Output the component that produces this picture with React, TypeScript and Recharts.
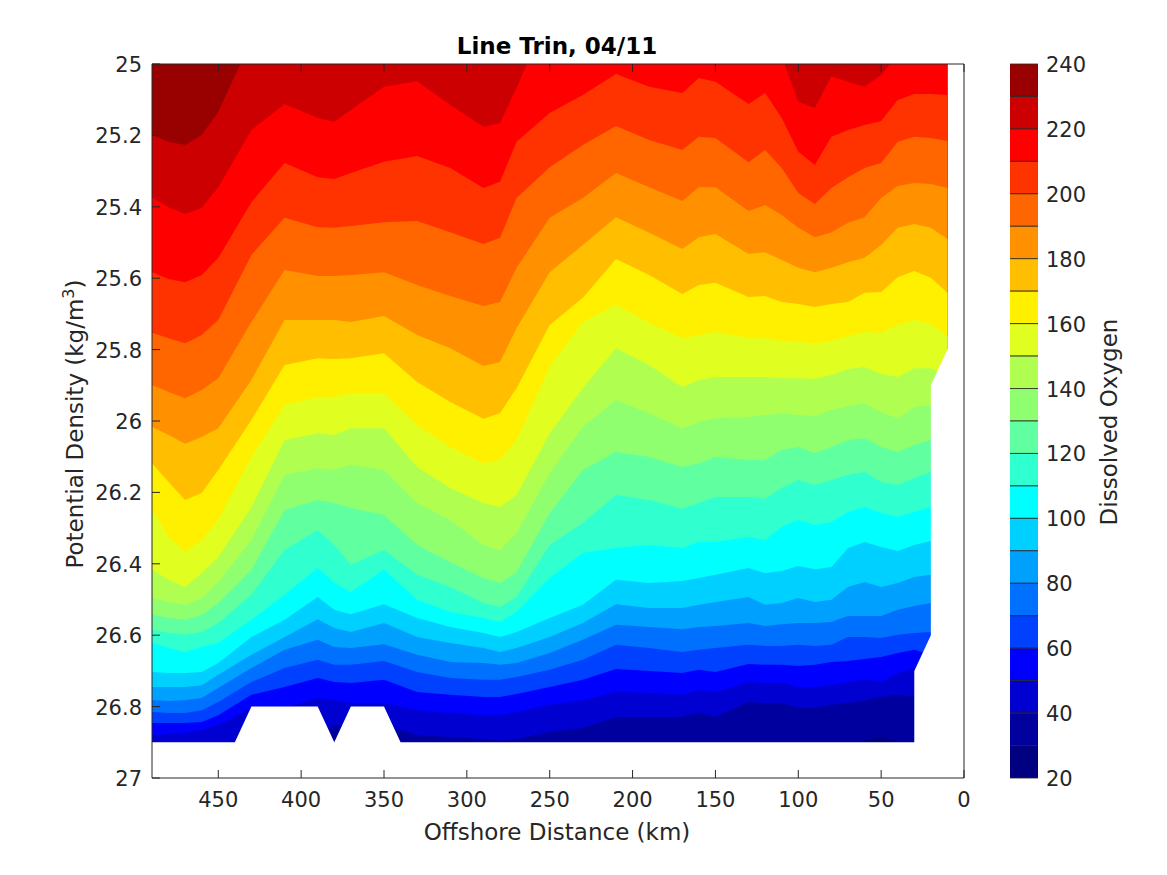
import { ComposedChart, Area, XAxis, YAxis } from "recharts";

// ─── Data: contour depth (kg/m3) of each oxygen level at each station ─────────

const stations = [490, 480, 470, 460, 450, 430, 410, 390, 380, 370, 350, 330, 310, 290, 280, 270, 250, 230, 210, 190, 170, 160, 150, 130, 120, 110, 100, 90, 80, 70, 60, 50, 40, 30, 20, 10];

const c230 = [25.199, 25.218, 25.227, 25.199, 25.134, 24.933, 24.85, 24.85, 24.85, 24.85, 24.85, 24.85, 24.85, 24.85, 24.85, 24.85, 24.85, 24.85, 24.85, 24.85, 24.85, 24.85, 24.85, 24.85, 24.85, 24.85, 24.85, 24.85, 24.85, 24.85, 24.85, 24.85, 24.85, 24.85, 24.85, 24.85];
const c220 = [25.373, 25.401, 25.42, 25.403, 25.345, 25.185, 25.112, 25.151, 25.162, 25.129, 25.064, 25.048, 25.115, 25.176, 25.165, 25.067, 24.85, 24.85, 24.85, 24.85, 24.85, 24.85, 24.85, 24.85, 24.85, 24.98, 25.106, 25.123, 25.034, 25.05, 25.064, 25.031, 24.975, 24.9, 24.85, 24.85];
const c210 = [25.583, 25.602, 25.611, 25.591, 25.543, 25.387, 25.277, 25.317, 25.322, 25.305, 25.274, 25.258, 25.291, 25.347, 25.33, 25.218, 25.137, 25.087, 25.028, 25.064, 25.081, 25.039, 25.05, 25.112, 25.081, 25.151, 25.246, 25.283, 25.204, 25.185, 25.171, 25.16, 25.101, 25.084, 25.084, 25.087];
const c200 = [25.753, 25.768, 25.782, 25.759, 25.717, 25.535, 25.431, 25.457, 25.459, 25.454, 25.443, 25.44, 25.471, 25.504, 25.487, 25.375, 25.289, 25.227, 25.174, 25.213, 25.241, 25.204, 25.207, 25.275, 25.241, 25.291, 25.361, 25.392, 25.347, 25.317, 25.291, 25.277, 25.218, 25.204, 25.207, 25.216];
const c190 = [25.899, 25.919, 25.936, 25.913, 25.88, 25.723, 25.577, 25.594, 25.594, 25.591, 25.583, 25.619, 25.65, 25.678, 25.667, 25.571, 25.431, 25.375, 25.305, 25.345, 25.384, 25.345, 25.345, 25.412, 25.395, 25.423, 25.459, 25.485, 25.471, 25.445, 25.429, 25.375, 25.342, 25.333, 25.336, 25.347];
const c180 = [26.017, 26.039, 26.064, 26.045, 26.02, 25.885, 25.717, 25.717, 25.717, 25.723, 25.706, 25.759, 25.796, 25.846, 25.835, 25.74, 25.583, 25.507, 25.429, 25.473, 25.518, 25.485, 25.476, 25.532, 25.527, 25.549, 25.571, 25.583, 25.571, 25.555, 25.543, 25.507, 25.459, 25.448, 25.459, 25.49];
const c170 = [26.118, 26.171, 26.221, 26.202, 26.137, 25.997, 25.843, 25.824, 25.826, 25.824, 25.81, 25.891, 25.947, 25.994, 25.978, 25.908, 25.731, 25.655, 25.546, 25.591, 25.644, 25.619, 25.613, 25.653, 25.65, 25.667, 25.672, 25.681, 25.672, 25.667, 25.641, 25.639, 25.597, 25.58, 25.599, 25.641];
const c160 = [26.244, 26.325, 26.367, 26.333, 26.277, 26.101, 25.955, 25.933, 25.933, 25.922, 25.922, 26.011, 26.073, 26.118, 26.109, 26.053, 25.849, 25.723, 25.675, 25.725, 25.768, 25.759, 25.751, 25.768, 25.768, 25.776, 25.779, 25.782, 25.776, 25.762, 25.751, 25.753, 25.731, 25.717, 25.728, 25.762];
const c150 = [26.417, 26.445, 26.465, 26.426, 26.381, 26.241, 26.053, 26.034, 26.039, 26.02, 26.02, 26.129, 26.188, 26.23, 26.241, 26.207, 26.034, 25.908, 25.796, 25.843, 25.905, 25.885, 25.877, 25.877, 25.877, 25.88, 25.88, 25.882, 25.871, 25.854, 25.849, 25.868, 25.877, 25.852, 25.852, 25.871];
const c140 = [26.496, 26.507, 26.515, 26.496, 26.451, 26.333, 26.151, 26.132, 26.137, 26.123, 26.137, 26.23, 26.277, 26.347, 26.361, 26.314, 26.146, 26.017, 25.941, 25.978, 26.02, 26.003, 25.992, 25.989, 25.983, 25.978, 25.983, 25.986, 25.969, 25.958, 25.95, 25.975, 25.992, 25.961, 25.955, 25.969];
const c130 = [26.543, 26.552, 26.557, 26.543, 26.51, 26.417, 26.249, 26.221, 26.23, 26.244, 26.263, 26.347, 26.395, 26.44, 26.454, 26.423, 26.258, 26.137, 26.087, 26.101, 26.129, 26.118, 26.101, 26.109, 26.109, 26.081, 26.073, 26.09, 26.073, 26.053, 26.048, 26.073, 26.087, 26.067, 26.053, 26.067];
const c120 = [26.585, 26.594, 26.599, 26.591, 26.566, 26.487, 26.361, 26.305, 26.347, 26.403, 26.361, 26.431, 26.465, 26.51, 26.521, 26.493, 26.347, 26.286, 26.207, 26.221, 26.246, 26.23, 26.213, 26.213, 26.218, 26.188, 26.165, 26.179, 26.165, 26.151, 26.143, 26.171, 26.179, 26.16, 26.143, 26.16];
const c110 = [26.622, 26.636, 26.647, 26.633, 26.622, 26.557, 26.487, 26.412, 26.454, 26.479, 26.417, 26.501, 26.535, 26.552, 26.563, 26.535, 26.44, 26.37, 26.356, 26.347, 26.356, 26.339, 26.339, 26.325, 26.333, 26.297, 26.277, 26.291, 26.283, 26.255, 26.241, 26.258, 26.269, 26.255, 26.241, 26.255];
const c100 = [26.703, 26.706, 26.706, 26.703, 26.678, 26.605, 26.557, 26.493, 26.529, 26.541, 26.513, 26.552, 26.577, 26.594, 26.605, 26.591, 26.552, 26.515, 26.445, 26.454, 26.448, 26.44, 26.431, 26.412, 26.426, 26.42, 26.406, 26.415, 26.409, 26.356, 26.339, 26.353, 26.364, 26.347, 26.336, 26.347];
const c90 = [26.745, 26.745, 26.745, 26.74, 26.711, 26.655, 26.605, 26.555, 26.58, 26.591, 26.566, 26.605, 26.622, 26.636, 26.647, 26.636, 26.605, 26.566, 26.513, 26.524, 26.524, 26.515, 26.507, 26.493, 26.515, 26.51, 26.496, 26.507, 26.501, 26.465, 26.451, 26.465, 26.454, 26.437, 26.431, 26.44];
const c80 = [26.782, 26.784, 26.782, 26.776, 26.748, 26.692, 26.641, 26.613, 26.633, 26.636, 26.625, 26.655, 26.675, 26.678, 26.683, 26.678, 26.65, 26.613, 26.571, 26.577, 26.583, 26.577, 26.574, 26.566, 26.574, 26.569, 26.566, 26.566, 26.563, 26.546, 26.546, 26.546, 26.529, 26.518, 26.51, 26.518];
const c70 = [26.815, 26.818, 26.818, 26.81, 26.787, 26.731, 26.692, 26.669, 26.683, 26.683, 26.672, 26.703, 26.72, 26.725, 26.725, 26.717, 26.697, 26.669, 26.627, 26.636, 26.647, 26.641, 26.636, 26.627, 26.63, 26.63, 26.627, 26.63, 26.627, 26.605, 26.605, 26.608, 26.599, 26.594, 26.591, 26.599];
const c60 = [26.846, 26.846, 26.846, 26.843, 26.824, 26.767, 26.745, 26.72, 26.731, 26.734, 26.725, 26.759, 26.767, 26.773, 26.773, 26.765, 26.745, 26.725, 26.695, 26.7, 26.706, 26.697, 26.703, 26.681, 26.683, 26.683, 26.686, 26.683, 26.675, 26.672, 26.667, 26.661, 26.65, 26.641, 26.655, 26.664];
const c50 = [26.88, 26.877, 26.874, 26.866, 26.852, 26.804, 26.804, 26.776, 26.782, 26.79, 26.79, 26.81, 26.818, 26.824, 26.824, 26.815, 26.795, 26.782, 26.759, 26.762, 26.767, 26.754, 26.759, 26.731, 26.734, 26.734, 26.745, 26.745, 26.74, 26.731, 26.725, 26.731, 26.706, 26.692, 26.703, 26.711];
const c40 = [26.95, 26.95, 26.95, 26.95, 26.95, 26.95, 26.91, 26.88, 26.852, 26.852, 26.852, 26.88, 26.885, 26.891, 26.896, 26.891, 26.871, 26.86, 26.829, 26.829, 26.829, 26.818, 26.829, 26.787, 26.79, 26.79, 26.804, 26.804, 26.795, 26.79, 26.782, 26.773, 26.767, 26.773, 26.776, 26.782];
const c30 = [26.95, 26.95, 26.95, 26.95, 26.95, 26.95, 26.95, 26.95, 26.95, 26.95, 26.95, 26.95, 26.95, 26.95, 26.95, 26.95, 26.95, 26.95, 26.95, 26.95, 26.95, 26.95, 26.95, 26.95, 26.95, 26.95, 26.95, 26.95, 26.95, 26.91, 26.895, 26.885, 26.896, 26.91, 26.95, 26.95];

const contours = [c230, c220, c210, c200, c190, c180, c170, c160, c150, c140, c130, c120, c110, c100, c90, c80, c70, c60, c50, c40, c30];
const bandColors = ["#990000", "#cc0000", "#ff0000", "#ff3300", "#ff6600", "#ff9100", "#ffbf00", "#fff000", "#e0ff20", "#b0ff50", "#8fff70", "#60ffa0", "#30ffd0", "#00ffff", "#00d0ff", "#00a0ff", "#0070ff", "#0040ff", "#0000ff", "#0000d0", "#00009f", "#000080"];
const levels = [240, 230, 220, 210, 200, 190, 180, 170, 160, 150, 140, 130, 120, 110, 100, 90, 80, 70, 60, 50, 40, 30, 20];

// edge of the sampled region, white below it
const edgeX = [9, 10, 20, 20, 30, 30, 340, 350, 370, 380, 390, 430, 440, 490];
const edgeY = [25.8, 25.8, 25.9, 26.6, 26.7, 26.9, 26.9, 26.8, 26.8, 26.9, 26.8, 26.8, 26.9, 26.9];

const xTicks = [0, 50, 100, 150, 200, 250, 300, 350, 400, 450];
const yTicks = [25, 25.2, 25.4, 25.6, 25.8, 26, 26.2, 26.4, 26.6, 26.8, 27];
const barTicks = [20, 40, 60, 80, 100, 120, 140, 160, 180, 200, 220, 240];

const rows = stations.map((x, i) => {
  const row: Record<string, number> = { x };
  contours.forEach((c, k) => { row["k" + k] = c[i]; });
  return row;
});
const edgeRows = edgeX.map((x, i) => ({ x, band: [edgeY[i], 27] }));
const barRows = [0, 1].map((x) => ({ x }));

const FONT = "DejaVu Sans";
const INK = "#262626";
const TICK = 8;
const textStyle = { fontSize: 21, fill: INK, fontFamily: FONT };

// ─── Inward ticks, the way the original axes have them ────────────────────────

function BottomTick({ x, y, payload }: any) {
  return (
    <g>
      <line x1={x} x2={x} y1={y} y2={y - TICK} stroke={INK} />
      <text x={x} y={y + 29} textAnchor="middle" {...textStyle}>{payload.value}</text>
    </g>
  );
}

function LeftTick({ x, y, payload }: any) {
  return (
    <g>
      <line x1={x} x2={x + TICK} y1={y} y2={y} stroke={INK} />
      <text x={x - 10} y={y + 8} textAnchor="end" {...textStyle}>{payload.value}</text>
    </g>
  );
}

function TopTick({ x, y }: any) {
  return <line x1={x} x2={x} y1={y} y2={y + TICK} stroke={INK} />;
}

function RightTick({ x, y }: any) {
  return <line x1={x} x2={x - TICK} y1={y} y2={y} stroke={INK} />;
}

function BarTick({ x, y, payload }: any) {
  return <text x={x} y={y + 8} {...textStyle}>{payload.value}</text>;
}

export default function App() {
  return (
    <div style={{ position: "absolute", left: 0, top: 0, width: 1167, height: 875, background: "#fff" }}>
      <div style={{ position: "absolute", left: 0, top: 0 }}>
        <ComposedChart width={1167} height={875} data={rows} margin={{ top: 63, right: 202, bottom: 67, left: 92 }}>
          <Area dataKey={() => [24.5, 26.95]} fill={bandColors[0]} fillOpacity={1} stroke="none" type="linear" dot={false} activeDot={false} isAnimationActive={false} />
          {contours.map((_, k) => (
            <Area
              key={k}
              dataKey={(d: Record<string, number>) => [d["k" + k], 26.95]}
              fill={bandColors[k + 1]}
              fillOpacity={1}
              stroke="none"
              type="linear"
              dot={false}
              activeDot={false}
              isAnimationActive={false}
            />
          ))}
          <Area data={edgeRows} dataKey="band" fill="#fff" fillOpacity={1} stroke="none" type="linear" dot={false} activeDot={false} isAnimationActive={false} />

          <XAxis dataKey="x" type="number" domain={[0, 490]} reversed allowDataOverflow ticks={xTicks} interval={0} height={30} tickSize={0} tickMargin={0} tick={BottomTick} tickLine={false} axisLine={{ stroke: INK }} />
          <YAxis type="number" domain={[25, 27]} reversed allowDataOverflow ticks={yTicks} interval={0} width={60} tickSize={0} tickMargin={0} tick={LeftTick} tickLine={false} axisLine={{ stroke: INK }} />
          <XAxis xAxisId="top" orientation="top" dataKey="x" type="number" domain={[0, 490]} reversed ticks={xTicks} interval={0} height={1} tickSize={0} tickMargin={0} tick={TopTick} tickLine={false} axisLine={{ stroke: INK }} />
          <YAxis yAxisId="right" orientation="right" type="number" domain={[25, 27]} reversed ticks={yTicks} interval={0} width={1} tickSize={0} tickMargin={0} tick={RightTick} tickLine={false} axisLine={{ stroke: INK }} />

          <text x={557} y={54} textAnchor="middle" fontFamily={FONT} fontWeight="bold" fontSize={23} fill="#000">Line Trin, 04/11</text>
          <text x={557} y={840} textAnchor="middle" fontFamily={FONT} fontSize={23} fill={INK}>Offshore Distance (km)</text>
          <text x={83} y={424} textAnchor="middle" transform="rotate(-90 83 424)" fontFamily={FONT} fontSize={23} fill={INK}>
            Potential Density (kg/m<tspan dy={-9} fontSize={16}>3</tspan><tspan dy={9}>)</tspan>
          </text>
        </ComposedChart>
      </div>

      <div style={{ position: "absolute", left: 0, top: 0 }}>
        <ComposedChart width={1167} height={875} data={barRows} margin={{ top: 64, right: 69, bottom: 97, left: 1010 }}>
          {bandColors.map((color, k) => (
            <Area
              key={k}
              dataKey={() => [levels[k + 1], levels[k]]}
              fill={color}
              fillOpacity={1}
              stroke={INK}
              strokeWidth={0.8}
              type="linear"
              dot={false}
              activeDot={false}
              isAnimationActive={false}
            />
          ))}
          <XAxis dataKey="x" type="number" domain={[0, 1]} hide />
          <YAxis orientation="right" type="number" domain={[20, 240]} ticks={barTicks} interval={0} width={60} tickSize={0} tickMargin={8} tick={BarTick} tickLine={false} axisLine={false} />
          <text x={1117} y={422} textAnchor="middle" transform="rotate(-90 1117 422)" fontFamily={FONT} fontSize={23} fill={INK}>Dissolved Oxygen</text>
        </ComposedChart>
      </div>
    </div>
  );
}
